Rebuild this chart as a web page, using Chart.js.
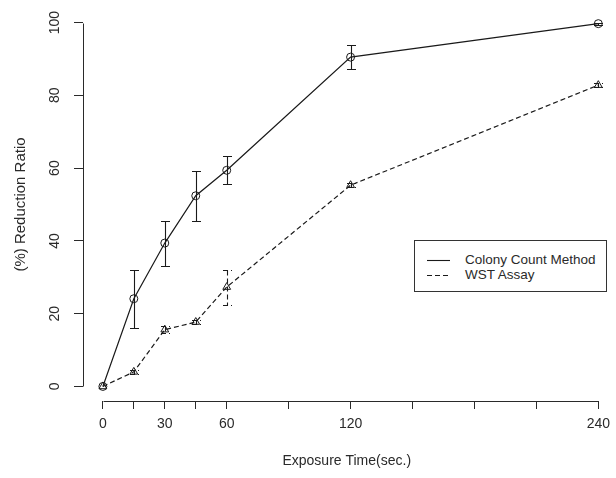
<!DOCTYPE html>
<html><head><meta charset="utf-8">
<script src="https://cdn.jsdelivr.net/npm/chart.js@4.4.0/dist/chart.umd.min.js"></script>
<style>
html,body{margin:0;padding:0;background:#fff;overflow:hidden}
#wrap{position:relative;width:616px;height:478px}
#legend{position:absolute;left:414px;top:240px;width:193px;height:52px;box-sizing:border-box;border:1px solid #333;font-family:"Liberation Sans",Arial,sans-serif;font-size:13.5px;color:#2a2a2a;background:#fff}
.row{position:absolute;left:0;height:16px;line-height:16px;white-space:nowrap}
.row svg{position:absolute;left:12px;top:0}
.row span{position:absolute;left:50px;top:0}
</style></head>
<body><div id="wrap"><canvas id="c" width="616" height="478"></canvas><div id="legend"></div></div>
<script>
const timePoints = [0, 15, 30, 45, 60, 120, 240];
const colonyMean = [0, 24.1, 39.4, 52.4, 59.4, 90.5, 99.7];
const colonyErr  = [0, 8.0, 6.2, 6.9, 3.8, 3.2, 0.3];
const wstMean    = [0, 4.0, 15.6, 17.7, 27.3, 55.3, 82.8];
const wstErr     = [0, 0.5, 1.0, 0.5, 4.8, 0.5, 0.5];
const xTicks = [0, 15, 30, 45, 60, 90, 120, 150, 180, 210, 240];
const xLabeled = [0, 30, 60, 120, 240];
const yTicks = [0, 20, 40, 60, 80, 100];
const seriesNames = ['Colony Count Method', 'WST Assay'];
const xTitle = 'Exposure Time(sec.)';
const yTitle = '(%) Reduction Ratio';

const INK = '#2a2a2a';
const LINE = '#1a1a1a';
const FONT = '"Liberation Sans", Arial, sans-serif';
Chart.defaults.font.family = FONT;
Chart.defaults.color = INK;

const toXY = (ys) => timePoints.map((t, i) => ({x: t, y: ys[i]}));

const errorBars = {
  id: 'errorBars',
  afterDatasetsDraw(chart) {
    const {ctx, scales: {x, y}} = chart;
    ctx.save();
    chart.data.datasets.forEach((ds) => {
      ctx.strokeStyle = ds.borderColor;
      ctx.lineWidth = 1.1;
      ctx.setLineDash(ds.borderDash || []);
      ds.errors.forEach((e, j) => {
        if (!e) return;
        const p = ds.data[j];
        const px = Math.round(x.getPixelForValue(p.x)) + 0.5;
        const t = Math.round(y.getPixelForValue(p.y + e)) + 0.5;
        const b = Math.round(y.getPixelForValue(p.y - e)) + 0.5;
        const cw = 4.5;
        ctx.beginPath();
        ctx.moveTo(px, t); ctx.lineTo(px, b);
        ctx.moveTo(px - cw, t); ctx.lineTo(px + cw, t);
        ctx.moveTo(px - cw, b); ctx.lineTo(px + cw, b);
        ctx.stroke();
      });
    });
    ctx.restore();
  }
};

const rAxes = {
  id: 'rAxes',
  afterDraw(chart) {
    const {ctx, scales: {x, y}, chartArea} = chart;
    ctx.save();
    ctx.strokeStyle = INK;
    ctx.lineWidth = 1;
    const by = Math.round(chartArea.bottom) + 0.5;
    ctx.beginPath();
    ctx.moveTo(Math.round(x.getPixelForValue(xTicks[0])) + 0.5, by);
    ctx.lineTo(Math.round(x.getPixelForValue(xTicks[xTicks.length - 1])) + 0.5, by);
    const lx = Math.round(chartArea.left) + 0.5;
    ctx.moveTo(lx, Math.round(y.getPixelForValue(yTicks[0])) + 0.5);
    ctx.lineTo(lx, Math.round(y.getPixelForValue(yTicks[yTicks.length - 1])) + 0.5);
    ctx.stroke();
    ctx.restore();
  }
};

new Chart(document.getElementById('c'), {
  type: 'line',
  data: {
    datasets: [
      {
        label: seriesNames[0], data: toXY(colonyMean), errors: colonyErr,
        borderColor: LINE, borderWidth: 1.2, tension: 0,
        pointStyle: 'circle', pointRadius: 4, pointBorderWidth: 1,
        pointBorderColor: LINE, pointBackgroundColor: 'rgba(0,0,0,0)'
      },
      {
        label: seriesNames[1], data: toXY(wstMean), errors: wstErr,
        borderColor: LINE, borderWidth: 1.2, borderDash: [5, 3], tension: 0,
        pointStyle: 'triangle', pointRadius: 4.5, pointBorderWidth: 1,
        pointBorderColor: LINE, pointBackgroundColor: 'rgba(0,0,0,0)'
      }
    ]
  },
  options: {
    responsive: false,
    animation: false,
    events: [],
    layout: {padding: {left: 0, right: 2, top: 8, bottom: 0}},
    plugins: {legend: {display: false}, tooltip: {enabled: false}},
    scales: {
      x: {
        type: 'linear', min: -9.62, max: 245.9,
        afterBuildTicks: (s) => { s.ticks = xTicks.map(v => ({value: v})); },
        afterFit: (s) => { s.height = 77; s.paddingLeft = 0; s.paddingRight = 0; },
        ticks: {
          autoSkip: false, minRotation: 0, maxRotation: 0, padding: 7,
          color: INK, font: {size: 14},
          callback: (v) => xLabeled.includes(v) ? String(v) : ''
        },
        grid: {drawOnChartArea: false, drawTicks: true, tickLength: 8, color: INK, lineWidth: 1},
        border: {display: false},
        title: {display: true, text: xTitle, color: INK, font: {size: 14}, padding: {top: 0, bottom: 8}}
      },
      y: {
        type: 'linear', min: -4, max: 104,
        afterBuildTicks: (s) => { s.ticks = yTicks.map(v => ({value: v})); },
        afterFit: (s) => { s.width = 83; s.paddingTop = 0; s.paddingBottom = 0; },
        ticks: {
          autoSkip: false, minRotation: 90, maxRotation: 90, crossAlign: 'center', padding: 7,
          color: INK, font: {size: 14},
          callback: (v) => String(v)
        },
        grid: {drawOnChartArea: false, drawTicks: true, tickLength: 9, color: INK, lineWidth: 1},
        border: {display: false},
        title: {display: true, text: yTitle, color: INK, font: {size: 15}, padding: {top: 12, bottom: 0}}
      }
    }
  },
  plugins: [errorBars, rAxes]
});

// legend (HTML, real text)
const legend = document.getElementById('legend');
const rowTops = [10.5, 26];
const dashes = ['', '5,3'];
seriesNames.forEach((name, i) => {
  const row = document.createElement('div');
  row.className = 'row';
  row.style.top = rowTops[i] + 'px';
  row.innerHTML = '<svg width="24" height="16"><line x1="0" y1="8.5" x2="23" y2="8.5" stroke="#1a1a1a" stroke-width="1.1"' +
    (dashes[i] ? ' stroke-dasharray="' + dashes[i] + '"' : '') + '/></svg>';
  const span = document.createElement('span');
  span.textContent = name;
  row.appendChild(span);
  legend.appendChild(row);
});
</script>
</body></html>
